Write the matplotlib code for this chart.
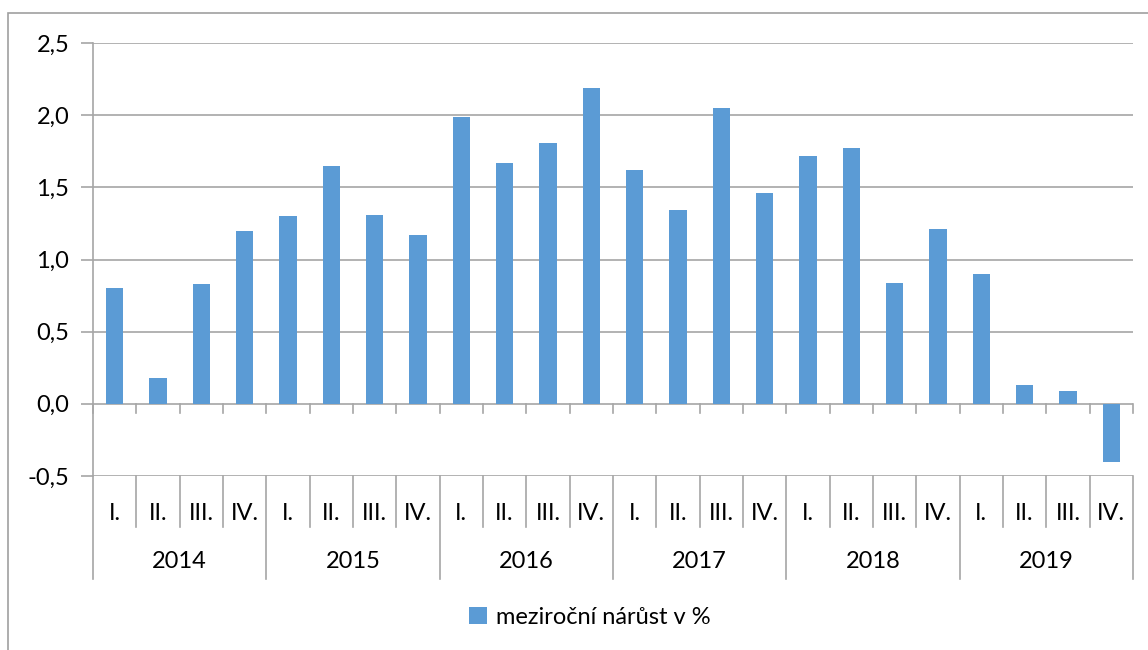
import matplotlib
matplotlib.use("Agg")
import matplotlib.pyplot as plt
from matplotlib.patches import Rectangle, Patch

# ── Data ───────────────────────────────────────────────────────────────────────
years    = ["2014", "2015", "2016", "2017", "2018", "2019"]
quarters = ["I.", "II.", "III.", "IV."]
values   = [0.80, 0.18, 0.83, 1.20,
            1.30, 1.65, 1.31, 1.17,
            1.99, 1.67, 1.81, 2.19,
            1.62, 1.34, 2.05, 1.46,
            1.72, 1.77, 0.84, 1.21,
            0.90, 0.13, 0.09, -0.40]
yticks   = [-0.5, 0.0, 0.5, 1.0, 1.5, 2.0, 2.5]
series_label = "meziroční nárůst v %"

# ── Style ──────────────────────────────────────────────────────────────────────
W, H = 1148, 650
BAR   = "#5B9BD5"
GRID  = "#a6a6a6"
plt.rcParams["font.family"] = ["Lato", "DejaVu Sans"]
FS = 17

fig = plt.figure(figsize=(W / 100, H / 100), dpi=100)

def px(x0, y0, x1, y1):
    # pixel box (top-left origin) -> figure fraction rect
    return [x0 / W, 1 - y1 / H, (x1 - x0) / W, (y1 - y0) / H]

# outer chart border
fig.add_artist(Rectangle((8 / W, -0.1), 1.2, 1 - 13 / H + 0.1,
                         transform=fig.transFigure, fill=False,
                         edgecolor="#a0a0a0", linewidth=1.2))

# ── Plot area ──────────────────────────────────────────────────────────────────
ax = fig.add_axes(px(93, 43, 1133, 476))
n = len(values)
xs = list(range(n))
ax.bar(xs, values, width=0.4, color=BAR, zorder=3)
ax.set_xlim(-0.5, n - 0.5)
ax.set_ylim(yticks[0], yticks[-1])
ax.set_yticks(yticks)
ax.set_yticklabels([f"{v:.1f}".replace(".", ",") for v in yticks], fontsize=FS)
ax.tick_params(axis="y", length=9, width=1.2, color=GRID, pad=8)
ax.set_xticks([])
for s in ["top", "right", "bottom"]:
    ax.spines[s].set_visible(False)
ax.spines["left"].set_color(GRID)
ax.spines["left"].set_linewidth(1.2)
for v in yticks:
    ax.axhline(v, color=GRID, linewidth=1.2, zorder=1)

# zero axis tick marks between categories
for b in range(n + 1):
    ax.plot([b - 0.5, b - 0.5], [0, -0.0625], color=GRID, linewidth=1.2,
            zorder=2, clip_on=False)

# ── Category table below ───────────────────────────────────────────────────────
tb = fig.add_axes(px(93, 476, 1133, 580))
tb.set_xlim(-0.5, n - 0.5)
tb.set_ylim(580 - 476, 0)
tb.axis("off")
for b in range(n + 1):
    long_line = b % len(quarters) == 0
    tb.plot([b - 0.5, b - 0.5], [0, 103 if long_line else 51],
            color=GRID, linewidth=1.2, clip_on=False)
for i in range(n):
    tb.text(i, 38, quarters[i % len(quarters)], ha="center", va="center",
            fontsize=FS)
for j, yr in enumerate(years):
    tb.text(j * len(quarters) + 1.5, 85, yr, ha="center", va="center",
            fontsize=FS)

# ── Legend ─────────────────────────────────────────────────────────────────────
fig.legend(handles=[Patch(facecolor=BAR, label=series_label)],
           loc="center", bbox_to_anchor=(590 / W, 1 - 617 / H),
           frameon=False, fontsize=FS, handlelength=0.75, handleheight=0.75,
           handletextpad=0.4)

fig.savefig("out.png", dpi=100)
